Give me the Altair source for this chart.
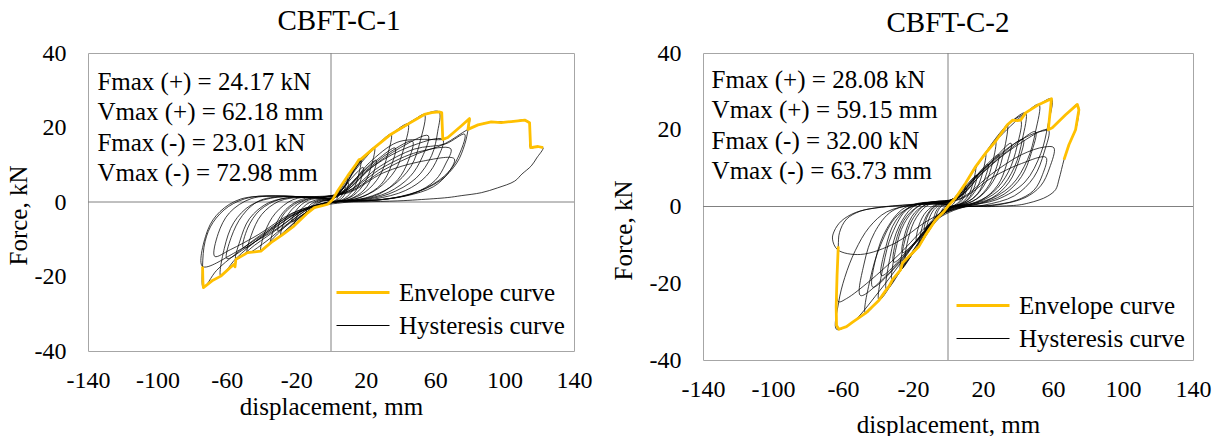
import altair as alt
import pandas as pd

FONT = "Liberation Serif"
X_TICKS = [-140, -100, -60, -20, 20, 60, 100, 140]
Y_TICKS = [-40, -20, 0, 20, 40]
SERIES = ["Envelope curve", "Hysteresis curve"]
COLORS = ["#FFC000", "#000000"]

titles = ["CBFT-C-1", "CBFT-C-2"]
stats_1 = ["Fmax (+) = 24.17 kN", "Vmax (+) = 62.18 mm", "Fmax (-) = 23.01 kN", "Vmax (-) = 72.98 mm"]
stats_2 = ["Fmax (+) = 28.08 kN", "Vmax (+) = 59.15 mm", "Fmax (-) = 32.00 kN", "Vmax (-) = 63.73 mm"]

# ---------------- CBFT-C-1 ----------------
env_1 = [(-74, -17.3), (-73.8, -21.5), (-73.5, -23.0), (-68, -21.0), (-63.5, -19.9), (-58, -17.6),
         (-55.8, -16.7), (-55.3, -17.4), (-54.8, -15.4), (-48.1, -13.6), (-44, -13.4), (-40.4, -13.2),
         (-34.6, -10.9), (-28.9, -9.1), (-26.9, -8.4), (-21.2, -6.4), (-13.4, -2.9), (-9.6, -1.5),
         (-5, -1.0), (-1.9, -0.6), (1.0, 0.7), (3.9, 3.0), (9.6, 7.0), (14.4, 10.1), (16.2, 11.4),
         (17.3, 11.5), (25, 14.6), (34.6, 18.2), (44.3, 20.9), (53.8, 23.5), (58, 24.0), (62.2, 24.17),
         (63.8, 24.0), (64.4, 16.8), (67.3, 17.3), (75, 20.4), (79.8, 22.4), (78.9, 19.5), (84.7, 20.7),
         (92.3, 21.5), (98, 21.3), (103.9, 21.6), (111.6, 22.0), (114.4, 21.3), (115.0, 14.6),
         (119.3, 14.9), (122.2, 14.6)]

hyst_1 = [
    (0, 0), (2.5, 1.6), (5, 3.4), (4.2, 1.6), (2.5, 0.4), (0, 0), (-2.5, -0.3), (-5, -0.8), (-3.5, -0.3), (-1, 0.2),
    (1.5, 1.0), (4, 3.0), (7, 5.0), (9.6, 7.0), (8.5, 4.2), (6, 1.6), (3, 0.4), (0, 0), (-3, -0.3), (-6.5, -0.8),
    (-9.6, -1.5), (-8, -0.6), (-4.5, 0.3), (-1, 0.4),
    (2, 1.0), (6, 3.2), (10, 5.2), (8.8, 2.8), (6, 0.9), (2, 0.1), (-3, -0.3), (-7, -0.8), (-10.5, -1.4),
    (-8.5, -0.4), (-4, 0.4), (-0.5, 0.5),
    (1, 0.7), (3.9, 3.0), (9.6, 7.0), (14.4, 10.1), (17.3, 11.5), (16, 7.5), (13, 3.5), (8, 1.0), (3, 0.1),
    (-3, -0.4), (-8, -1.1), (-13.4, -2.9), (-11.5, -1.2), (-7, 0.3), (-2, 0.6),
    (3, 1.5), (9, 4.8), (14, 7.5), (18.5, 9.3), (16.8, 5.5), (13, 2.2), (7, 0.5), (1, 0), (-5, -0.7),
    (-10, -1.8), (-14.5, -3.3), (-12.5, -1.0), (-7, 0.5), (-1, 0.6),
    (3, 2.0), (9.6, 6.8), (17.3, 11.3), (25, 14.6), (23.3, 9.8), (19.5, 5.2), (13, 1.8), (5, 0.2), (-4, -0.5),
    (-12, -2.3), (-17, -4.2), (-21.2, -6.4), (-19, -3.2), (-14, -0.6), (-7, 0.7), (-1, 0.6),
    (4, 1.6), (11, 4.8), (19, 8.5), (26, 11.2), (24, 7.2), (19, 3.2), (11, 0.8), (2, 0), (-7, -1.0), (-15, -3.0),
    (-22.5, -5.3), (-20, -2.2), (-13, 0.5), (-5, 0.9), (0, 0.7),
    (4, 2.5), (12, 8.0), (20, 12.3), (27, 15.5), (34.6, 18.2), (32.5, 12.5), (28, 7), (20, 2.8), (10, 0.6),
    (0, 0), (-7, -0.8), (-15, -3.0), (-22, -6.0), (-28.9, -9.1), (-26.5, -4.8), (-21, -1.3), (-13, 0.8),
    (-5, 1.1), (0, 0.8),
    (6, 2.2), (16, 7.0), (27, 11.5), (37, 14.5), (34.5, 9.5), (29, 4.8), (19, 1.6), (8, 0.3), (-6, -0.8),
    (-17, -3.6), (-24, -5.8), (-30.5, -7.8), (-28, -3.8), (-21, -0.6), (-11, 1.1), (-2, 1.0),
    (5, 2.6), (14, 8.6), (25, 14.4), (34.6, 18.2), (44.3, 20.9), (42, 14.5), (37, 8.5), (27, 3.6), (14, 0.8),
    (1, 0), (-10, -1.5), (-20, -5.0), (-28, -8.4), (-34.6, -10.9), (-32, -6.2), (-26, -2.0), (-17, 0.7),
    (-7, 1.3), (0, 0.9),
    (7, 2.6), (20, 8.3), (34, 13.4), (47, 16.3), (44.5, 11), (38.5, 6), (28, 2.2), (14, 0.5), (-2, -0.1),
    (-12, -1.6), (-24, -5.6), (-33, -9.6), (-40.4, -13.2), (-38, -8), (-32, -3), (-22, 0.6), (-10, 1.4), (0, 1.0),
    (5, 2.8), (17.3, 11.0), (30, 16.6), (44.3, 20.7), (53.8, 23.5), (51.5, 16.5), (46, 9.5), (35, 4.2),
    (20, 1.1), (2, 0), (-12, -1.6), (-25, -5.8), (-38, -10.8), (-48.1, -13.6), (-46, -9), (-40, -3.4),
    (-30, 0.2), (-17, 1.3), (-5, 1.2),
    (8, 2.8), (22, 8.8), (40, 14.6), (56, 17.8), (52.5, 12), (45.5, 6.8), (33, 2.6), (17, 0.6), (0, 0),
    (-15, -2.0), (-30, -6.8), (-42, -10.2), (-50.5, -12.3), (-48, -7), (-41, -2.2), (-29, 0.8), (-13, 1.4), (0, 1.0),
    (6, 3.0), (17.3, 11.3), (34.6, 18.0), (53.8, 23.5), (62.2, 24.2), (61.5, 19), (58, 12.5), (49, 6.4),
    (33, 2.1), (15, 0.4), (0, 0), (-15, -2.0), (-30, -7.0), (-44, -11.6), (-54.8, -15.4), (-52.5, -10.5),
    (-47, -4.5), (-36, -0.2), (-21, 1.3), (-6, 1.3),
    (8, 2.9), (25, 9.8), (45, 14.8), (64.4, 16.8), (61.5, 11.8), (55, 7), (43, 3.1), (25, 0.8), (3, 0),
    (-18, -2.6), (-36, -8.2), (-50, -12.6), (-60, -15.2), (-57.5, -9.5), (-51, -3.6), (-41, 0.4), (-23, 1.5), (-5, 1.2),
    (10, 2.9), (30, 9.3), (50, 13.4), (69, 14.3), (66, 10.2), (60, 5.8), (48, 2.4), (28, 0.6), (3, 0),
    (-20, -2.6), (-40, -9.3), (-55, -15.3), (-63.5, -19.9), (-61.5, -12.5), (-56, -5.5), (-46, -0.8),
    (-31, 1.3), (-12, 1.4),
    (10, 2.5), (30, 7.8), (52, 10.9), (71, 11.6), (67.5, 7.8), (59, 4.1), (43, 1.6), (21, 0.3), (0, 0),
    (-22, -2.9), (-42, -8.8), (-58, -12.8), (-67, -14.6), (-65, -8.5), (-58.5, -2.9), (-46, 0.9), (-27, 1.6), (-6, 1.2),
    (8, 3.2), (22, 10.5), (38, 16), (52, 16.8), (64.4, 16.8), (67.3, 17.3), (75, 20.4), (79.8, 22.4),
    (79, 19.5), (77, 15.4), (72.5, 10.5), (63, 5.8), (46, 2.1), (26, 0.5), (2, 0), (-20, -2.9), (-40, -8.7),
    (-55, -14), (-66, -18.4), (-73.5, -23.0), (-74, -17.3), (-72.5, -10.5), (-68, -5.5), (-59, -1.2),
    (-46, 1.3), (-26, 1.6), (-5, 1.2),
    (10, 3.0), (28, 9.5), (48, 14.2), (66, 15.6), (77, 18.2), (74.5, 13.4), (68, 8.2), (55, 3.8), (35, 1.0),
    (10, 0), (-15, -2.0), (-35, -7.5), (-55, -13.5), (-74, -17.3), (-71, -7.5), (-64, -2.6), (-52, 0.8),
    (-32, 1.6), (-10, 1.3),
    (10, 2.7), (30, 8.5), (50, 13), (65, 15.5), (78.9, 19.5), (84.7, 20.7), (92.3, 21.5), (103.9, 21.6),
    (111.6, 22.0), (114.4, 21.3), (115, 14.6), (119.3, 14.9), (122.2, 14.6), (118.5, 11.8), (115.4, 9.7),
    (110, 7.5), (105.8, 5.6), (96, 3.8), (86.6, 2.5), (75, 1.7), (67.3, 1.2), (50, 0.6), (38.5, 0.3),
    (18, 0.05), (2, 0),
]

# ---------------- CBFT-C-2 ----------------
env_2 = [(-62.7, -10.4), (-63.4, -18), (-63.9, -26), (-63.7, -31), (-62.3, -32.0), (-58, -31.3),
         (-54.7, -30.2), (-47.1, -27.8), (-39.4, -24.4), (-35.1, -21.6), (-33.7, -20.8), (-31.8, -19.1),
         (-27.1, -16.5), (-26.1, -14.8), (-24.2, -13.9), (-16.6, -10.4), (-12.8, -7.4), (-7.1, -3.5),
         (-2.3, -1.3), (0.6, 0.4), (4.3, 2.2), (10.1, 6.1), (15.8, 10.4), (21.5, 13.9), (27.2, 17.0),
         (33.9, 21.3), (37, 22.5), (39.6, 22.4), (41.5, 22.5), (44.3, 24.4), (52, 26.6), (59.15, 28.08),
         (57.3, 20.0), (59.6, 20.5), (67.2, 23.9), (73.9, 26.6), (74.8, 25.2), (72.9, 20.0), (69.1, 16.1),
         (66.3, 12.2)]

hyst_2 = [
    (0, 0), (2.5, 1.5), (5, 3.0), (4, 1.3), (2, 0.2), (0, -0.2), (-2, -0.8), (-4, -1.8), (-3, -0.6), (-1, 0.2),
    (1.5, 0.9), (4.3, 2.2), (7, 4.0), (10.1, 6.1), (9, 3.5), (6.5, 1.3), (3, 0.2), (0, -0.3), (-3, -1.2),
    (-7.1, -3.5), (-6, -1.4), (-3.5, 0.1), (-0.5, 0.5),
    (3, 1.3), (7, 3.3), (10.5, 4.8), (9.2, 2.5), (6, 0.7), (2, 0), (-2, -0.6), (-5, -1.8), (-8, -3.2),
    (-6.8, -1.2), (-4, 0.2), (-1, 0.5),
    (0.6, 0.4), (4.3, 2.2), (10.1, 6.1), (15.8, 10.4), (14.5, 6.5), (11.5, 2.8), (7, 0.7), (2, 0), (-3, -1.1),
    (-7.1, -3.5), (-10, -5.3), (-12.8, -7.4), (-11.3, -3.8), (-8, -0.8), (-3.5, 0.6), (0, 0.6),
    (3.5, 1.6), (9, 4.7), (16.5, 8.2), (15, 5), (11.5, 2), (6, 0.4), (0, -0.2), (-5, -1.9), (-9.5, -3.8),
    (-13.5, -6.0), (-12, -2.8), (-8.5, -0.4), (-4, 0.7), (0, 0.6),
    (3, 1.7), (10.1, 6.1), (15.8, 10.3), (21.5, 13.9), (20, 9.2), (16.5, 4.8), (11, 1.6), (4, 0.1), (-2, -0.9),
    (-7.1, -3.6), (-12.8, -7.3), (-16.6, -10.4), (-15, -5.8), (-11.5, -1.8), (-6, 0.6), (-1, 0.8),
    (4, 1.7), (10, 5.0), (17, 8.4), (23, 11.0), (21, 7.2), (17, 3.4), (10, 0.9), (2, 0), (-5, -2.2),
    (-11, -5.4), (-18, -9.0), (-16.5, -4.8), (-12.5, -1.4), (-6, 0.7), (0, 0.8),
    (3, 1.8), (10.1, 6.2), (21.5, 13.8), (27.2, 17.0), (25.5, 11.5), (21.5, 6.2), (14, 2.0), (5, 0.2),
    (-3, -1.2), (-10, -5.8), (-17, -10.6), (-24.2, -13.9), (-22.5, -8.0), (-18, -2.8), (-11, 0.5), (-3, 1.0),
    (5, 2.0), (13, 6.3), (21, 10.4), (29, 13.5), (27, 9.2), (22, 4.6), (14, 1.3), (4, 0), (-6, -2.6),
    (-15, -7.5), (-26, -12.0), (-24, -6.2), (-19, -1.6), (-11, 0.8), (-2, 1.1),
    (3, 2.0), (10.1, 6.3), (21.5, 13.9), (27.2, 16.9), (33.9, 21.3), (32, 14.5), (27.5, 8), (19, 2.8),
    (8, 0.3), (-2, -0.8), (-10, -5.2), (-19, -11.5), (-27.1, -16.5), (-25, -9.5), (-20.5, -3.5), (-13, 0.4), (-4, 1.1),
    (5, 2.1), (14, 6.8), (25, 11.8), (36, 16.5), (33.5, 11), (28.5, 5.6), (19, 1.6), (6, 0), (-6, -2.6),
    (-18, -8.8), (-31, -14.5), (-29, -7.8), (-23.5, -2.5), (-14, 0.8), (-3, 1.2),
    (3, 2.0), (10.1, 6.3), (21.5, 13.9), (33.9, 21.3), (37, 22.5), (41.5, 22.5), (39.5, 15.8), (34.5, 9),
    (25.5, 3.6), (12, 0.5), (0, -0.5), (-10, -5.5), (-22, -13.4), (-31.8, -19.1), (-30, -11.5), (-25, -4.4),
    (-16, 0.3), (-5, 1.2),
    (6, 2.3), (17, 8), (30, 13.4), (43, 17.5), (40.5, 12), (35, 6.4), (25, 2.2), (10, 0.2), (-6, -2.8),
    (-20, -11.5), (-35.1, -21.6), (-33, -13), (-28, -5.2), (-19, 0.2), (-6, 1.3),
    (3, 2.0), (15.8, 10.4), (27.2, 17), (37, 22.4), (44.3, 24.4), (42.5, 17.5), (38, 10.3), (29, 4.2),
    (14, 0.6), (0, -0.4), (-12, -6.3), (-25, -12.7), (-38, -18.0), (-35.5, -10.5), (-30, -3.8), (-20, 0.4), (-7, 1.3),
    (3, 2.0), (15.8, 10.4), (27.2, 17.0), (44.3, 24.4), (52, 26.6), (50, 19.5), (45.5, 12.3), (36, 5.4),
    (20, 1.1), (3, -0.2), (-10, -5.5), (-24, -14.2), (-39.4, -24.4), (-37, -15.5), (-32, -7.2), (-23, -0.6), (-10, 1.1),
    (6, 2.4), (20, 9), (35, 14.8), (50, 19.5), (47.5, 13.8), (42, 7.8), (32, 3.2), (16, 0.5), (0, -0.6),
    (-14, -6.8), (-28, -14.8), (-43, -21.0), (-41, -13), (-35, -5.8), (-25, -0.4), (-10, 1.1),
    (3, 2.0), (15.8, 10.4), (33.9, 21.3), (44.3, 24.4), (52, 26.6), (59.15, 28.08), (57, 21), (53, 13.8),
    (44, 6.4), (28, 1.8), (10, 0), (-6, -2.8), (-20, -12.2), (-33, -20.2), (-47.1, -27.8), (-44.5, -19),
    (-38.5, -10), (-29, -2.4), (-15, 0.8), (-3, 1.0),
    (6, 2.2), (20, 8.8), (38, 15.5), (57.3, 20.0), (55, 14.2), (49, 7.6), (38, 2.8), (20, 0.3), (0, -0.8),
    (-15, -7.3), (-32, -16.5), (-50, -23.2), (-48, -15), (-42, -6.8), (-32, -1.2), (-16, 0.8), (-3, 1.0),
    (4, 1.8), (18, 8.6), (35, 15.5), (50, 19.2), (57.3, 20), (59.6, 20.5), (67.2, 23.9), (73.9, 26.6),
    (74.8, 25.2), (72.9, 20.0), (69.1, 16.1), (66.3, 12.2), (63.5, 7.2), (61.5, 4.4), (57, 2.7), (52, 1.7),
    (46, 0.9), (40.6, 0.4), (25, 0), (5, -0.4), (-10, -4.5), (-25, -13.5), (-40, -22.5), (-54.7, -30.2),
    (-63.7, -32.0), (-62.5, -25), (-59, -18.5), (-53, -11.5), (-45, -5.4), (-35, -1.4), (-20, 0.4), (-5, 0.8),
    (8, 2.3), (25, 8.5), (42, 13.5), (55, 15.5), (60.5, 15.3), (58, 10), (53, 5.4), (44, 2.3), (28, 0.4),
    (8, -0.3), (-10, -4.4), (-28, -12.5), (-45, -19.5), (-58, -24), (-62.7, -24.8), (-63.2, -17.5),
    (-62.7, -10.4), (-62, -6.8), (-58, -3.3), (-50, -1.2), (-38, -0.2), (-22, 0.4), (-6, 0.8),
    (8, 2.1), (25, 7.5), (42, 11.2), (56, 12.8), (54, 8.3), (49, 4.2), (39, 1.6), (22, 0.2), (4, -0.4),
    (-12, -3.8), (-30, -9.5), (-50, -12.5), (-63, -11.3), (-66, -8.5), (-65, -6.4), (-61, -3.8), (-53, -1.6),
    (-42, -0.4), (-28, 0.3), (-12, 0.7), (0, 0.4),
]


def path_frame(points, series):
    return pd.DataFrame({
        "x": [p[0] for p in points],
        "y": [p[1] for p in points],
        "i": list(range(len(points))),
        "series": series,
    })


def panel(env, hyst, title, stats, w, h, lay):
    x_enc = alt.X("x:Q", scale=alt.Scale(domain=[-140, 140], nice=False, zero=False),
                  axis=alt.Axis(values=X_TICKS, title="displacement, mm", labelFlush=False, grid=False,
                                ticks=False, tickSize=0, domain=False, labelPadding=lay["xlp"],
                                labelBaseline="middle", labelOverlap=False, labelExpr="'' + datum.value",
                                titleY=lay["xty"], titleBaseline="middle"))
    y_enc = alt.Y("y:Q", scale=alt.Scale(domain=[-40, 40], nice=False, zero=False),
                  axis=alt.Axis(values=Y_TICKS, title="Force, kN", grid=False, ticks=False, tickSize=0,
                                domain=False, labelPadding=22, labelExpr="'' + datum.value",
                                titleX=lay["ytx"], titleY=lay["yty"], titleBaseline="middle"))
    legend = alt.Legend(title=None, orient="none", legendX=lay["lx"], legendY=lay["ly"],
                        symbolType="stroke", symbolSize=2809, labelFontSize=25, labelFont=FONT,
                        labelColor="black", labelOffset=8, rowPadding=6, clipHeight=27,
                        symbolOpacity=1, padding=0, labelLimit=400)
    color = alt.Color("series:N", scale=alt.Scale(domain=SERIES, range=COLORS), legend=legend)
    swidth = alt.StrokeWidth("series:N", scale=alt.Scale(domain=SERIES, range=[2.8, 1.0]), legend=legend)

    zero_v = alt.Chart(pd.DataFrame({"x": [0]})).mark_rule(color="#808080", strokeWidth=1).encode(x=x_enc)
    zero_h = alt.Chart(pd.DataFrame({"y": [0]})).mark_rule(color="#808080", strokeWidth=1).encode(y=y_enc)
    hyst_layer = alt.Chart(path_frame(hyst, SERIES[1])).mark_line(
        opacity=0.75, interpolate="catmull-rom").encode(
        x=x_enc, y=y_enc, order="i:Q", color=color, strokeWidth=swidth)
    env_layer = alt.Chart(path_frame(env, SERIES[0])).mark_line(strokeJoin="round").encode(
        x=x_enc, y=y_enc, order="i:Q", color=color, strokeWidth=swidth)
    text_layer = alt.Chart(pd.DataFrame({"t": [stats]})).mark_text(
        align="left", baseline="top", fontSize=25, font=FONT, lineHeight=30.6, color="black").encode(
        text="t:N", x=alt.value(lay["tx"]), y=alt.value(lay["ty"]))

    return alt.layer(zero_v, zero_h, hyst_layer, env_layer, text_layer).properties(
        width=w, height=h,
        title=alt.TitleParams(title, fontSize=29, font=FONT, fontWeight="normal", color="black",
                              offset=lay["toff"], baseline="alphabetic", anchor="middle", dx=lay["tdx"]))


lay1 = dict(xlp=29, xty=55, ytx=-70, yty=162, tx=9.4, ty=16.5, lx=247, ly=226, toff=-18, tdx=8)
lay2 = dict(xlp=29, xty=64, ytx=-80, yty=177, tx=8.6, ty=14.5, lx=252, ly=239, toff=-20, tdx=0)

left = panel(env_1, hyst_1, titles[0], stats_1, 486, 298, lay1)
right = panel(env_2, hyst_2, titles[1], stats_2, 490, 307, lay2)

chart = alt.hconcat(left, right, spacing=17).resolve_scale(
    color="independent", strokeWidth="independent").resolve_legend(
    color="independent", strokeWidth="independent").properties(
    padding={"left": 5, "top": 6, "right": 0, "bottom": 0}, background="white").configure_view(
    stroke="#a6a6a6", strokeWidth=1).configure_axis(
    labelFont=FONT, titleFont=FONT, labelFontSize=24, titleFontSize=25, labelColor="black",
    titleColor="black", titleFontWeight="normal")

chart.save("out.html", embed_options={"renderer": "svg", "actions": False})
